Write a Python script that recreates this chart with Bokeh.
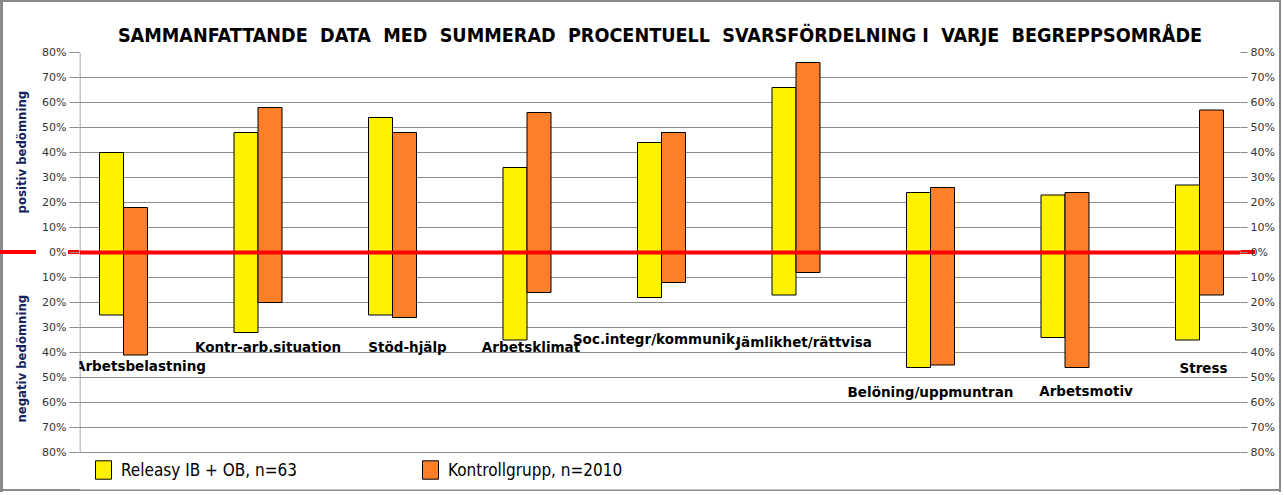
from bokeh.plotting import figure
from bokeh.models import (Range1d, FixedTicker, LinearAxis, Span, Legend, LegendItem,
                          ColumnDataSource)
from bokeh.core.properties import value
from bokeh.embed import file_html
from bokeh.resources import INLINE

# ---------------- data ----------------
categories = ["Arbetsbelastning", "Kontr-arb.situation", "Stöd-hjälp", "Arbetsklimat",
              "Soc.integr/kommunik.", "Jämlikhet/rättvisa", "Belöning/uppmuntran",
              "Arbetsmotiv", "Stress"]
releasy_pos = [40, 48, 54, 34, 44, 66, 24, 23, 27]
releasy_neg = [-25, -32, -25, -35, -18, -17, -46, -34, -35]
kontroll_pos = [18, 58, 48, 56, 48, 76, 26, 24, 57]
kontroll_neg = [-41, -20, -26, -16, -12, -8, -45, -46, -17]
tick_values = [-80, -70, -60, -50, -40, -30, -20, -10, 0, 10, 20, 30, 40, 50, 60, 70, 80]
series_names = ["Releasy IB + OB, n=63", "Kontrollgrupp, n=2010"]
title_words = ["SAMMANFATTANDE", "DATA", "MED", "SUMMERAD", "PROCENTUELL",
               "SVARSFÖRDELNING I", "VARJE", "BEGREPPSOMRÅDE"]
side_labels = ["negativ bedömning", "positiv bedömning"]

# label placement (layout only)
label_y = [-45.2, -37.6, -37.6, -37.6, -34.4, -35.6, -55.6, -55.2, -46]
label_dx = [17, 10, 15, 4, -5, 8, 0, 21, 4]

# ---------------- layout ----------------
W, H = 1284, 495
FL, FR, FT, FB = 79, 1240, 52, 489
PX_PER_UNIT = 2.5
step = 134.5
c0 = 123
def px_to_x(px):
    return (px - c0) / step

bw = 24 / step
xs = list(range(len(categories)))
ymax = 80
ymin = ymax - (FB - FT) / PX_PER_UNIT

p = figure(width=W, height=H, output_backend="svg", toolbar_location=None,
           x_range=Range1d(px_to_x(FL), px_to_x(FR)), y_range=Range1d(ymin, ymax),
           min_border_left=FL, min_border_right=W - FR, min_border_top=FT,
           min_border_bottom=H - FB, frame_width=FR - FL, frame_height=FB - FT,
           y_axis_location=None)
p.xaxis.visible = False
p.xgrid.visible = False
p.outline_line_color = None
p.background_fill_color = "white"
p.border_fill_color = None

# red zero line continuing into the margins + outer frame, as page background
red = "linear-gradient(#FF0000,#FF0000)"
gray = "linear-gradient(#8a8a8a,#8a8a8a)"
p.styles = {"background": ", ".join([
    f"{red} 0px 250px / 36px 4px no-repeat",
    f"{red} 68px 250px / 11px 4px no-repeat",
    f"{red} 1240px 250px / 15px 4px no-repeat",
    f"{gray} 0px 0px / 3px 492px no-repeat",
    f"{gray} 0px 0px / 1281px 2px no-repeat",
    f"{gray} 1279px 0px / 2px 492px no-repeat",
    f"{gray} 0px 489px / 1281px 2px no-repeat",
    "white"])}

overrides = {v: f"{abs(v)}%" for v in tick_values}
nbsp = "\u00a0"
for loc, tout in (("left", 10), ("right", 7)):
    ax = LinearAxis(ticker=FixedTicker(ticks=tick_values))
    ax.major_label_overrides = overrides
    ax.major_tick_out = tout
    ax.major_tick_in = 0
    ax.minor_tick_out = 0
    ax.minor_tick_in = 0
    ax.major_tick_line_color = "#8c8c8c"
    ax.axis_line_color = None
    ax.major_label_text_font = "DejaVu Sans"
    ax.major_label_text_font_size = "11px"
    ax.major_label_text_color = "#333333"
    ax.major_label_standoff = 3
    if loc == "left":
        ax.axis_label = nbsp * 7 + side_labels[0] + nbsp * 20 + side_labels[1]
        ax.axis_label_text_font = "DejaVu Sans Condensed"
        ax.axis_label_text_font_style = "bold"
        ax.axis_label_text_font_size = "13px"
        ax.axis_label_text_color = "#13235b"
        ax.axis_label_standoff = 10
    p.add_layout(ax, loc)

p.ygrid.ticker = FixedTicker(ticks=tick_values)
p.ygrid.grid_line_color = "#8c8c8c"
p.ygrid.grid_line_width = 1

# left axis line, only over the value range
p.segment(x0=[px_to_x(FL + 0.5)], x1=[px_to_x(FL + 0.5)], y0=[tick_values[0]],
          y1=[tick_values[-1]], line_color="#8c8c8c", line_width=1)

src = ColumnDataSource(dict(
    xy=[x - bw / 2 for x in xs], xo=[x + bw / 2 for x in xs],
    rp=releasy_pos, rn=releasy_neg, kp=kontroll_pos, kn=kontroll_neg))
ry = p.vbar(x="xy", width=bw, top="rp", bottom="rn", source=src,
            fill_color="#FFF200", line_color="black", line_width=1)
ko = p.vbar(x="xo", width=bw, top="kp", bottom="kn", source=src,
            fill_color="#FD7F2A", line_color="black", line_width=1)

p.add_layout(Span(location=0, dimension="width", line_color="#FF0000", line_width=4))

p.text(x=xs, y=label_y, text=categories, x_offset=label_dx, text_font=value("DejaVu Sans"),
       text_font_style="bold", text_font_size="13.5px", text_align="center",
       text_baseline="middle", text_color="black")

p.title.text = (nbsp * 2).join(title_words)
p.title.text_font = "DejaVu Sans Condensed"
p.title.text_font_style = "bold"
p.title.text_font_size = "19.6px"
p.title.align = "center"
p.title.text_color = "black"
p.title.standoff = 12

legend = Legend(items=[LegendItem(label=series_names[0], renderers=[ry]),
                       LegendItem(label=series_names[1], renderers=[ko])],
                orientation="horizontal", location=(14, 8), padding=0, margin=0,
                glyph_width=20, glyph_height=23, label_standoff=8, label_width=280,
                spacing=19, border_line_color=None, background_fill_alpha=0,
                label_text_font="DejaVu Sans Condensed", label_text_font_size="17px",
                label_text_color="black")
p.add_layout(legend)

open("out.html", "w").write(file_html(p, INLINE))
